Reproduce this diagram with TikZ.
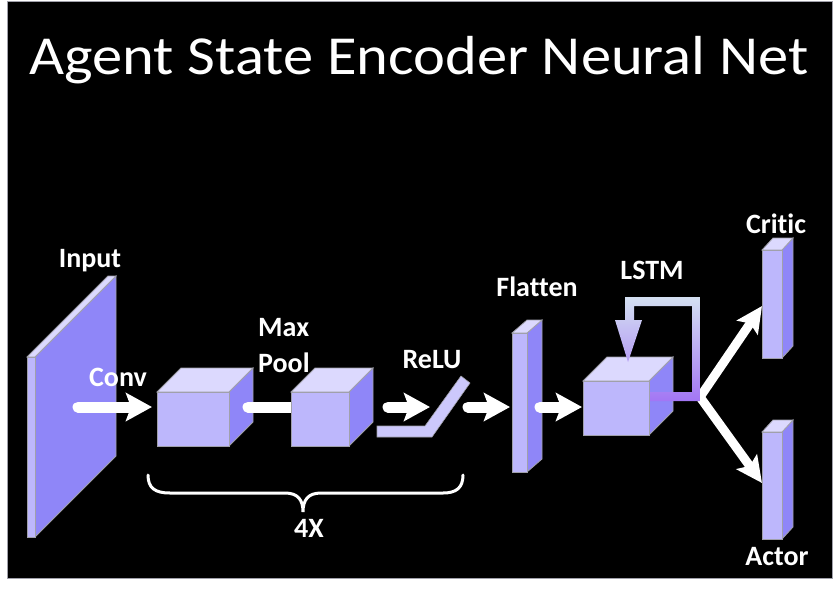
\documentclass[tikz,border=0pt]{standalone}
\usepackage{fontspec}
\setmainfont[Ligatures=NoCommon]{Carlito}
\usetikzlibrary{arrows.meta}

\definecolor{frontcol}{RGB}{189,183,252}
\definecolor{topcol}{RGB}{220,217,254}
\definecolor{sidecol}{RGB}{143,134,248}
\definecolor{edgecol}{RGB}{160,160,170}
\definecolor{relucol}{RGB}{204,200,252}
\definecolor{looptop}{RGB}{212,224,242}
\definecolor{loopmid}{RGB}{180,198,232}
\definecolor{loopbot}{RGB}{163,118,244}

\tikzset{
  frontface/.style={fill=frontcol, draw=edgecol, line width=0.8pt},
  topface/.style={fill=topcol, draw=edgecol, line width=0.8pt},
  sideface/.style={fill=sidecol, draw=edgecol, line width=0.8pt},
  flow/.style={draw=white, line width=11pt, line cap=round,
    -{Stealth[length=26pt,width=28pt,inset=5pt]}},
  thinflow/.style={draw=white, line width=9pt,
    -{Stealth[length=26pt,width=25pt,inset=5pt]}},
  lbl/.style={text=white, inner sep=0pt, font=\fontsize{28}{34}\selectfont\bfseries},
}

% name, x, y, width, height, depth x, depth y
\newcommand{\prism}[7]{%
  \fill[sideface] ({#2+#4},#3) -- ({#2+#4+#6},{#3-#7}) -- ({#2+#4+#6},{#3+#5-#7}) -- ({#2+#4},{#3+#5}) -- cycle;
  \fill[topface] (#2,#3) -- ({#2+#6},{#3-#7}) -- ({#2+#4+#6},{#3-#7}) -- ({#2+#4},#3) -- cycle;
  \fill[frontface] (#2,#3) rectangle ({#2+#4},{#3+#5});
  \coordinate (#1) at ({#2+#4/2},{#3+#5/2});
}

\begin{document}
\begin{tikzpicture}[x=1pt, y=-1pt]
  \useasboundingbox (0,0) rectangle (837,590);
  \fill[white] (0,0) rectangle (837,590);
  \fill[black] (7,1) rectangle (832,578);
  \draw[edgecol, line width=1pt] (7,1) rectangle (832,578);

  % title
  \node[text=white, inner sep=0pt, anchor=base, xscale=1.1,
    font=\fontsize{55}{64}\selectfont] (title) at (419,74) {Agent State Encoder Neural Net};

  % end points of the connectors
  \coordinate (inp-out) at (78,407);
  \coordinate (conv-in) at (152,407);
  \coordinate (conv-out) at (248,407);
  \coordinate (pool-in) at (291,407);
  \coordinate (pool-out) at (388,407);
  \coordinate (relu-in) at (430,407);
  \coordinate (relu-out) at (468,407);
  \coordinate (flat-in) at (510,407);
  \coordinate (flat-out) at (540,407);
  \coordinate (lstm-in) at (582,407);
  \coordinate (split) at (700,397);
  \coordinate (critic-in) at (762,306);
  \coordinate (actor-in) at (762,483);

  \prism{input}{27}{357}{8}{180}{81}{81}
  \draw[flow] (inp-out) -- (conv-in);
  \prism{conv}{157}{392}{72}{54}{24}{24}
  \draw[white, line width=11pt, line cap=round] (conv-out) -- (pool-in);
  \prism{pool}{291}{392}{58}{54}{24}{24}
  \draw[flow] (pool-out) -- (relu-in);
  % relu glyph
  \filldraw[fill=relucol, draw=edgecol, line width=0.6pt] (377,426) -- (425,426) -- (461,376) -- (470,383) -- (432,437) -- (377,437) -- cycle;
  \draw[flow] (relu-out) -- (flat-in);
  \prism{flatten}{512}{333}{15}{139}{15}{13}
  \draw[flow] (flat-out) -- (lstm-in);
  \prism{lstm}{583}{381}{66}{54}{24}{24}

  \draw[thinflow] (split) -- (critic-in);
  \draw[thinflow] (split) -- (actor-in);
  % recurrent loop
  \shade[top color=looptop, middle color=loopmid, bottom color=loopbot]
    (650,392) -- (692,392) -- (692,306) -- (634,306) -- (634,320) -- (642,320) -- (628,362)
    -- (615,320) -- (625,320) -- (625,297) -- (700,297) -- (700,401) -- (650,401) -- cycle;

  \prism{critic}{762}{250}{20}{108}{11}{12}
  \prism{actor}{762}{432}{20}{107}{11}{12}

  % labels
  \node[lbl, anchor=base] (inputlbl) at (90,267) {Input};
  \node[lbl, anchor=base] (convlbl) at (118,386) {Conv};
  \node[lbl, anchor=base west] (maxlbl) at (258,336) {Max};
  \node[lbl, anchor=base west] (poollbl) at (258,372) {Pool};
  \node[lbl, anchor=base] (relulbl) at (432,368) {ReLU};
  \node[lbl, anchor=base] (flatlbl) at (537,296) {Flatten};
  \node[lbl, anchor=base] (lstmlbl) at (652,279) {LSTM};
  \node[lbl, anchor=base] (criticlbl) at (776,233) {Critic};
  \node[lbl, anchor=base] (actorlbl) at (777,565) {Actor};

  % brace under the repeated block
  \draw[white, line width=3pt, line cap=round]
    (148,475) .. controls (148,488) and (155,493) .. (170,493) -- (285,493)
    .. controls (298,493) and (303,500) .. (303,512)
    .. controls (303,500) and (308,493) .. (321,493) -- (443,493)
    .. controls (456,493) and (463,488) .. (463,475);
  \node[lbl, anchor=base] (repeatlbl) at (309,537) {4X};
\end{tikzpicture}
\end{document}
